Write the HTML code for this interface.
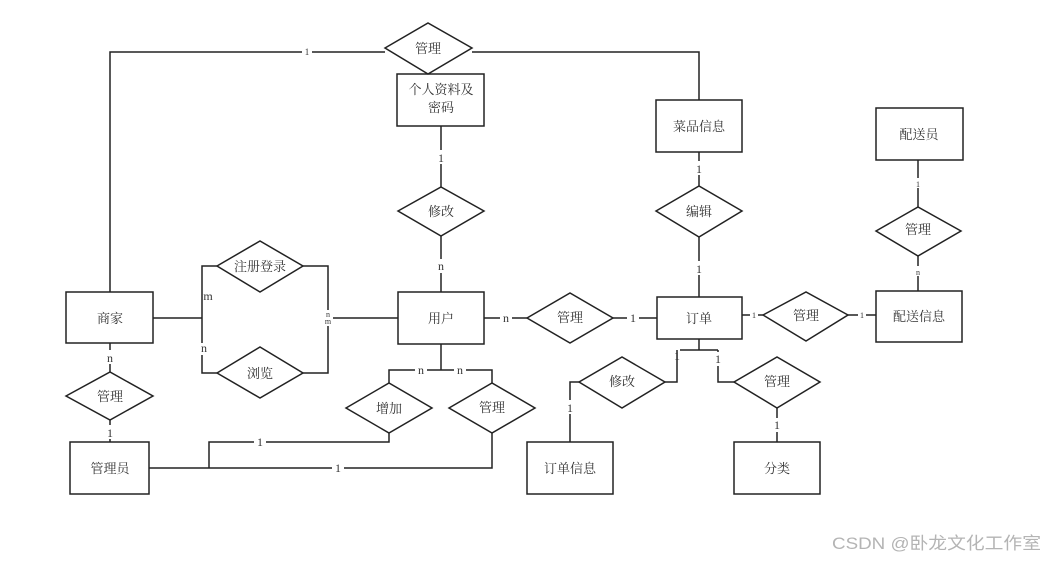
<!DOCTYPE html>
<html><head><meta charset="utf-8"><style>
html,body{margin:0;padding:0;background:#fff;}
svg{display:block;}
text{font-family:"Liberation Serif","Noto Serif CJK SC",serif;fill:#333;}
</style></head><body>
<svg width="1046" height="561" viewBox="0 0 1046 561" xmlns="http://www.w3.org/2000/svg">
<g fill="none" stroke="#222" stroke-width="1.5">
<rect x="397" y="74" width="87" height="52"/>
<rect x="656" y="100" width="86" height="52"/>
<rect x="876" y="108" width="87" height="52"/>
<rect x="66" y="292" width="87" height="51"/>
<rect x="398" y="292" width="86" height="52"/>
<rect x="657" y="297" width="85" height="42"/>
<rect x="876" y="291" width="86" height="51"/>
<rect x="70" y="442" width="79" height="52"/>
<rect x="527" y="442" width="86" height="52"/>
<rect x="734" y="442" width="86" height="52"/>
<polygon points="385,48 428,23 472,48 428,74"/>
<polygon points="398,211 441,187 484,211 441,236"/>
<polygon points="656,211 699,186 742,211 699,237"/>
<polygon points="876,231 918,207 961,231 918,256"/>
<polygon points="217,266 260,241 303,266 260,292"/>
<polygon points="217,373 260,347 303,373 260,398"/>
<polygon points="527,318 570,293 613,318 570,343"/>
<polygon points="763,315 806,292 848,315 806,341"/>
<polygon points="579,382 622,357 665,382 622,408"/>
<polygon points="734,382 777,357 820,382 777,408"/>
<polygon points="66,396 110,372 153,396 110,420"/>
<polygon points="346,408 389,383 432,408 389,433"/>
<polygon points="449,408 492,383 535,408 492,433"/>
<polyline points="110,292 110,52 385,52"/>
<polyline points="472,52 699,52 699,100"/>
<line x1="441" y1="126" x2="441" y2="187"/>
<line x1="441" y1="236" x2="441" y2="292"/>
<line x1="699" y1="152" x2="699" y2="186"/>
<line x1="699" y1="237" x2="699" y2="297"/>
<line x1="918" y1="160" x2="918" y2="207"/>
<line x1="918" y1="256" x2="918" y2="291"/>
<line x1="153" y1="318" x2="202" y2="318"/>
<polyline points="217,266 202,266 202,373 217,373"/>
<polyline points="303,266 328,266 328,373 303,373"/>
<line x1="328" y1="318" x2="398" y2="318"/>
<line x1="110" y1="343" x2="110" y2="372"/>
<line x1="110" y1="420" x2="110" y2="442"/>
<line x1="441" y1="344" x2="441" y2="370"/>
<polyline points="389,383 389,370 492,370 492,383"/>
<polyline points="389,433 389,442 209,442 209,468"/>
<polyline points="149,468 492,468 492,433"/>
<line x1="484" y1="318" x2="527" y2="318"/>
<line x1="613" y1="318" x2="657" y2="318"/>
<line x1="742" y1="315" x2="763" y2="315"/>
<line x1="848" y1="315" x2="876" y2="315"/>
<line x1="699" y1="339" x2="699" y2="350"/>
<line x1="680" y1="350" x2="718" y2="350"/>
<polyline points="677,350 677,382 665,382"/>
<polyline points="718,350 718,382 734,382"/>
<polyline points="579,382 570,382 570,442"/>
<line x1="777" y1="408" x2="777" y2="442"/>
</g>
<g font-size="12" text-anchor="middle">
<rect x="302" y="46" width="10" height="10" fill="#fff"/><text x="307" y="55" font-size="9">1</text>
<rect x="435" y="150" width="12" height="14" fill="#fff"/><text x="441" y="162">1</text>
<rect x="435" y="259" width="12" height="14" fill="#fff"/><text x="441" y="270">n</text>
<rect x="693" y="161" width="12" height="14" fill="#fff"/><text x="699" y="173">1</text>
<rect x="693" y="261" width="12" height="14" fill="#fff"/><text x="699" y="273">1</text>
<rect x="914" y="178" width="8" height="10" fill="#fff"/><text x="918" y="187" font-size="8">1</text>
<rect x="914" y="266" width="8" height="10" fill="#fff"/><text x="918" y="275" font-size="8">n</text>
<text x="208" y="300">m</text>
<rect x="198" y="343" width="10" height="12" fill="#fff"/><text x="204" y="352">n</text>
<rect x="323" y="310" width="10" height="16" fill="#fff"/><text x="328" y="317" font-size="8">n</text><text x="328" y="324" font-size="8">m</text>
<rect x="104" y="350" width="12" height="14" fill="#fff"/><text x="110" y="362">n</text>
<rect x="104" y="425" width="12" height="14" fill="#fff"/><text x="110" y="437">1</text>
<rect x="415" y="364" width="12" height="12" fill="#fff"/><text x="421" y="374">n</text>
<rect x="454" y="364" width="12" height="12" fill="#fff"/><text x="460" y="374">n</text>
<rect x="254" y="435" width="12" height="14" fill="#fff"/><text x="260" y="446">1</text>
<rect x="332" y="461" width="12" height="14" fill="#fff"/><text x="338" y="472">1</text>
<rect x="500" y="312" width="12" height="12" fill="#fff"/><text x="506" y="322">n</text>
<rect x="627" y="311" width="12" height="14" fill="#fff"/><text x="633" y="322">1</text>
<rect x="750" y="310" width="8" height="10" fill="#fff"/><text x="754" y="318" font-size="8">1</text>
<rect x="858" y="310" width="8" height="10" fill="#fff"/><text x="862" y="318" font-size="8">1</text>
<text x="677" y="360">1</text>
<rect x="713" y="352" width="10" height="14" fill="#fff"/><text x="718" y="363">1</text>
<rect x="565" y="400" width="10" height="14" fill="#fff"/><text x="570" y="412">1</text>
<rect x="772" y="418" width="10" height="14" fill="#fff"/><text x="777" y="429">1</text>
</g>
<g font-size="13" text-anchor="middle">
<text x="428" y="53">管理</text>
<text x="441" y="94">个人资料及</text>
<text x="441" y="112">密码</text>
<text x="699" y="131">菜品信息</text>
<text x="919" y="139">配送员</text>
<text x="441" y="216">修改</text>
<text x="699" y="216">编辑</text>
<text x="918" y="234">管理</text>
<text x="260" y="271">注册登录</text>
<text x="260" y="378">浏览</text>
<text x="110" y="323">商家</text>
<text x="441" y="323">用户</text>
<text x="570" y="322">管理</text>
<text x="699" y="323">订单</text>
<text x="806" y="320">管理</text>
<text x="919" y="321">配送信息</text>
<text x="622" y="386">修改</text>
<text x="777" y="386">管理</text>
<text x="110" y="401">管理</text>
<text x="389" y="413">增加</text>
<text x="492" y="412">管理</text>
<text x="110" y="473">管理员</text>
<text x="570" y="473">订单信息</text>
<text x="777" y="473">分类</text>
</g>
<text x="832" y="549" font-size="17" textLength="209" lengthAdjust="spacingAndGlyphs" style="fill:#b4b4b4;font-family:'Liberation Sans','Noto Sans CJK SC',sans-serif">CSDN @卧龙文化工作室</text>
</svg>
</body></html>
